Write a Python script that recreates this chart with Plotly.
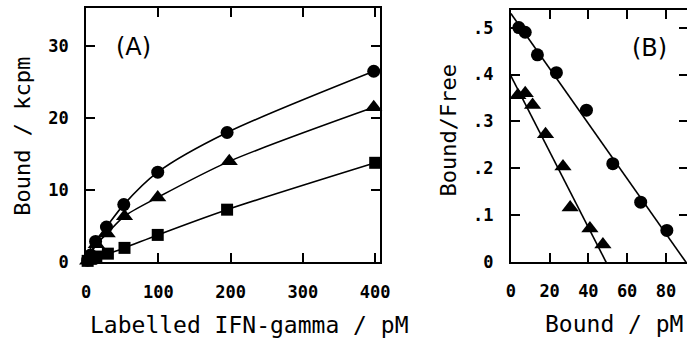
import plotly.graph_objects as go

# Panel A: saturation binding
circ_x = [2, 6, 13, 28, 52, 99, 195, 398]
circ_y = [0.3, 1.0, 2.9, 4.9, 8.0, 12.5, 18.0, 26.5]
tri_x = [2, 6, 14, 29, 53, 99, 198, 398]
tri_y = [0.2, 1.0, 2.5, 4.0, 6.4, 9.0, 14.0, 21.5]
sq_x = [2, 7, 14, 30, 53, 99, 195, 400]
sq_y = [0.2, 0.5, 0.8, 1.2, 2.0, 3.8, 7.3, 13.8]

# Panel B: Scatchard
b_circ_x = [4.1, 7.4, 13.7, 23.5, 39.0, 52.6, 67.0, 80.5]
b_circ_y = [0.500, 0.490, 0.442, 0.404, 0.324, 0.210, 0.128, 0.068]
b_tri_x = [3.6, 7.4, 11.2, 17.9, 26.9, 30.6, 40.8, 47.5]
b_tri_y = [0.356, 0.360, 0.335, 0.273, 0.204, 0.117, 0.072, 0.038]
fit_circ_x = [0, 90.4]
fit_circ_y = [0.530, 0]
fit_tri_x = [0, 49.2]
fit_tri_y = [0.397, 0]

a_xticks = [0, 100, 200, 300, 400]
a_yticks = [0, 10, 20, 30]
b_xticks = [0, 20, 40, 60, 80]
b_yticks = [0, 0.1, 0.2, 0.3, 0.4, 0.5]
b_yticktext = ["0", ".1", ".2", ".3", ".4", ".5"]

W, H = 697, 351
MONO = "DejaVu Sans Mono"
B_YRANGE = [0, 0.538]

fig = go.Figure()

def add_series(x, y, symbol, size, xa, ya, shape="spline"):
    fig.add_trace(go.Scatter(x=x, y=y, mode="lines+markers", xaxis=xa, yaxis=ya,
                             line=dict(color="black", width=1.6, shape=shape, smoothing=0.8),
                             marker=dict(symbol=symbol, size=size, color="black"),
                             showlegend=False, cliponaxis=False, hoverinfo="skip"))

add_series(circ_x, circ_y, "circle", 13, "x", "y")
add_series(tri_x, tri_y, "triangle-up", 15, "x", "y")
add_series(sq_x, sq_y, "square", 12, "x", "y")

for fx, fy in [(fit_circ_x, fit_circ_y), (fit_tri_x, fit_tri_y)]:
    fig.add_trace(go.Scatter(x=fx, y=fy, mode="lines", xaxis="x2", yaxis="y2",
                             line=dict(color="black", width=1.6), showlegend=False,
                             hoverinfo="skip"))
fig.add_trace(go.Scatter(x=b_circ_x, y=b_circ_y, mode="markers", xaxis="x2", yaxis="y2",
                         marker=dict(symbol="circle", size=13, color="black"),
                         showlegend=False, cliponaxis=False, hoverinfo="skip"))
fig.add_trace(go.Scatter(x=b_tri_x, y=b_tri_y, mode="markers", xaxis="x2", yaxis="y2",
                         marker=dict(symbol="triangle-up", size=15, color="black"),
                         showlegend=False, cliponaxis=False, hoverinfo="skip"))
# invisible trace so the right-hand tick axis of panel B is drawn
fig.add_trace(go.Scatter(x=[None], y=[None], mode="markers", xaxis="x2", yaxis="y3",
                         showlegend=False, hoverinfo="skip"))

axcommon = dict(showgrid=False, zeroline=False, showline=True, linecolor="black", linewidth=2,
                ticks="inside", ticklen=9, tickwidth=2, tickcolor="black", mirror="ticks",
                tickfont=dict(family=MONO, size=17, color="black", weight="bold"))

fig.update_layout(
    width=W, height=H, margin=dict(l=0, r=0, t=0, b=0),
    paper_bgcolor="white", plot_bgcolor="white",
    xaxis=dict(domain=[83 / W, 383.5 / W], range=[0, 407], tickvals=a_xticks,
               ticklabelstandoff=13, anchor="y", **axcommon),
    yaxis=dict(domain=[1 - 270 / H, 1 - 8 / H], range=[0, 35.3], tickvals=a_yticks,
               ticklabelstandoff=12, anchor="x", **axcommon),
    xaxis2=dict(domain=[517 / W, 1.0], range=[0, 90.9], tickvals=b_xticks,
                ticklabelstandoff=12, anchor="y2", **axcommon),
    yaxis2=dict(domain=[1 - 270 / H, 1 - 10 / H], range=B_YRANGE, tickvals=b_yticks,
                ticktext=b_yticktext, ticklabelstandoff=12, anchor="x2",
                **{**axcommon, "mirror": False}),
    yaxis3=dict(overlaying="y2", side="right", anchor="x2", range=B_YRANGE,
                tickvals=b_yticks, showticklabels=False, showgrid=False, zeroline=False,
                showline=False, ticks="inside", ticklen=8, tickwidth=2, tickcolor="black"),
)

def ann(text, x, y, size, angle=0, family=MONO, weight="normal"):
    fig.add_annotation(text=text, x=x / W, y=1 - y / H, xref="paper", yref="paper",
                       showarrow=False, textangle=angle, xanchor="center", yanchor="middle",
                       font=dict(family=family, size=size, color="black", weight=weight))

ann("Labelled IFN-gamma / pM", 250, 335, 23)
ann("Bound / kcpm", 17, 140, 22, angle=-90)
ann("Bound / pM", 622, 334, 23)
ann("Bound/Free", 453, 134, 22, angle=-90)
ann("(A)", 131, 48, 24, family="DejaVu Sans")
ann("(B)", 659, 49, 24, family="DejaVu Sans")

fig.write_html("out.html", config={"displayModeBar": False, "staticPlot": True},
               post_script="document.body.style.margin='0';document.body.style.overflow='hidden';")
